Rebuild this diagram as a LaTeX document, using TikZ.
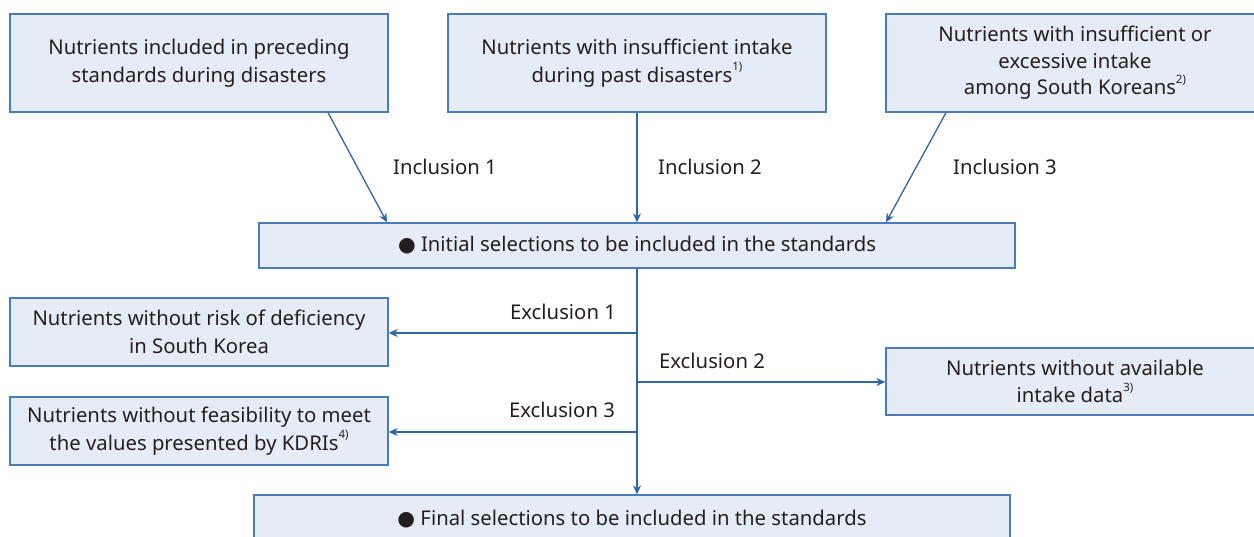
\documentclass[tikz,border=0pt]{standalone}
\usepackage{fontspec}
\setmainfont{Noto Sans}
\newfontfamily\symfont{DejaVu Sans}
\usetikzlibrary{arrows.meta}
\definecolor{boxfill}{HTML}{E6ECF5}
\definecolor{boxline}{HTML}{4A7BBE}
\definecolor{arrowc}{HTML}{2F65AA}
\definecolor{txt}{HTML}{231F20}
\newcommand{\fn}[1]{\raisebox{0.55em}{\fontsize{11.5}{11.5}\selectfont #1)}}
\tikzset{
  box/.style={draw=boxline, fill=boxfill, line width=1.3pt, text=txt, align=center,
    inner sep=0pt, font=\fontsize{20.3}{27.5}\selectfont},
  conn/.style={draw=arrowc, line width=1.3pt, -{Stealth[length=9pt,width=8pt]}},
  lbl/.style={text=txt, font=\fontsize{20.3}{27.5}\selectfont, inner sep=0pt},
}
\begin{document}
\begin{tikzpicture}[x=1pt,y=-1pt]
\useasboundingbox (0,0) rectangle (1254,536);
\clip (0,0) rectangle (1254,536);
\node[box, minimum width=378pt, minimum height=98pt] (b1) at (199,63)
  {Nutrients included in preceding\\standards during disasters};
\node[box, minimum width=378pt, minimum height=98pt] (b2) at (637,63)
  {Nutrients with insufficient intake\\during past disasters\fn{1}};
\node[box, minimum width=378pt, minimum height=98pt, font=\fontsize{20.3}{26.5}\selectfont] (b3) at (1075,63)
  {Nutrients with insufficient or\\excessive intake\\among South Koreans\fn{2}};
\node[box, minimum width=756pt, minimum height=45pt] (init) at (637,245.5)
  {{\symfont\char"25CF}\ Initial selections to be included in the standards};
\node[box, minimum width=378pt, minimum height=68pt] (l1) at (199,332)
  {Nutrients without risk of deficiency\\in South Korea};
\node[box, minimum width=378pt, minimum height=68pt] (l2) at (199,431)
  {Nutrients without feasibility to meet\\the values presented by KDRIs\fn{4}};
\node[box, minimum width=378pt, minimum height=67pt] (r1) at (1075,381.5)
  {Nutrients without available\\intake data\fn{3}};
\node[box, minimum width=756pt, minimum height=45pt, text depth=0pt] (fin) at (632,517.5)
  {{\symfont\char"25CF}\ Final selections to be included in the standards};

\draw[conn] ([xshift=129pt]b1.south) -- ([xshift=-250pt]init.north);
\draw[conn] (b2.south) -- (init.north);
\draw[conn] ([xshift=-129pt]b3.south) -- ([xshift=249pt]init.north);
\node[lbl] (i1) at (445,167) {Inclusion 1};
\node[lbl] (i2) at (710,167) {Inclusion 2};
\node[lbl] (i3) at (1005,167) {Inclusion 3};

\draw[conn] (init.south) -- (init.south |- fin.north);
\coordinate (j1) at (637,333);
\coordinate (j2) at (637,382);
\coordinate (j3) at (637,432);
\draw[conn] (j1) -- (j1 -| l1.east);
\draw[conn] (j2) -- (j2 -| r1.west);
\draw[conn] (j3) -- (j3 -| l2.east);
\node[lbl] (e1) at (563,312) {Exclusion 1};
\node[lbl] (e2) at (712,361) {Exclusion 2};
\node[lbl] (e3) at (562,410) {Exclusion 3};
\end{tikzpicture}
\end{document}
